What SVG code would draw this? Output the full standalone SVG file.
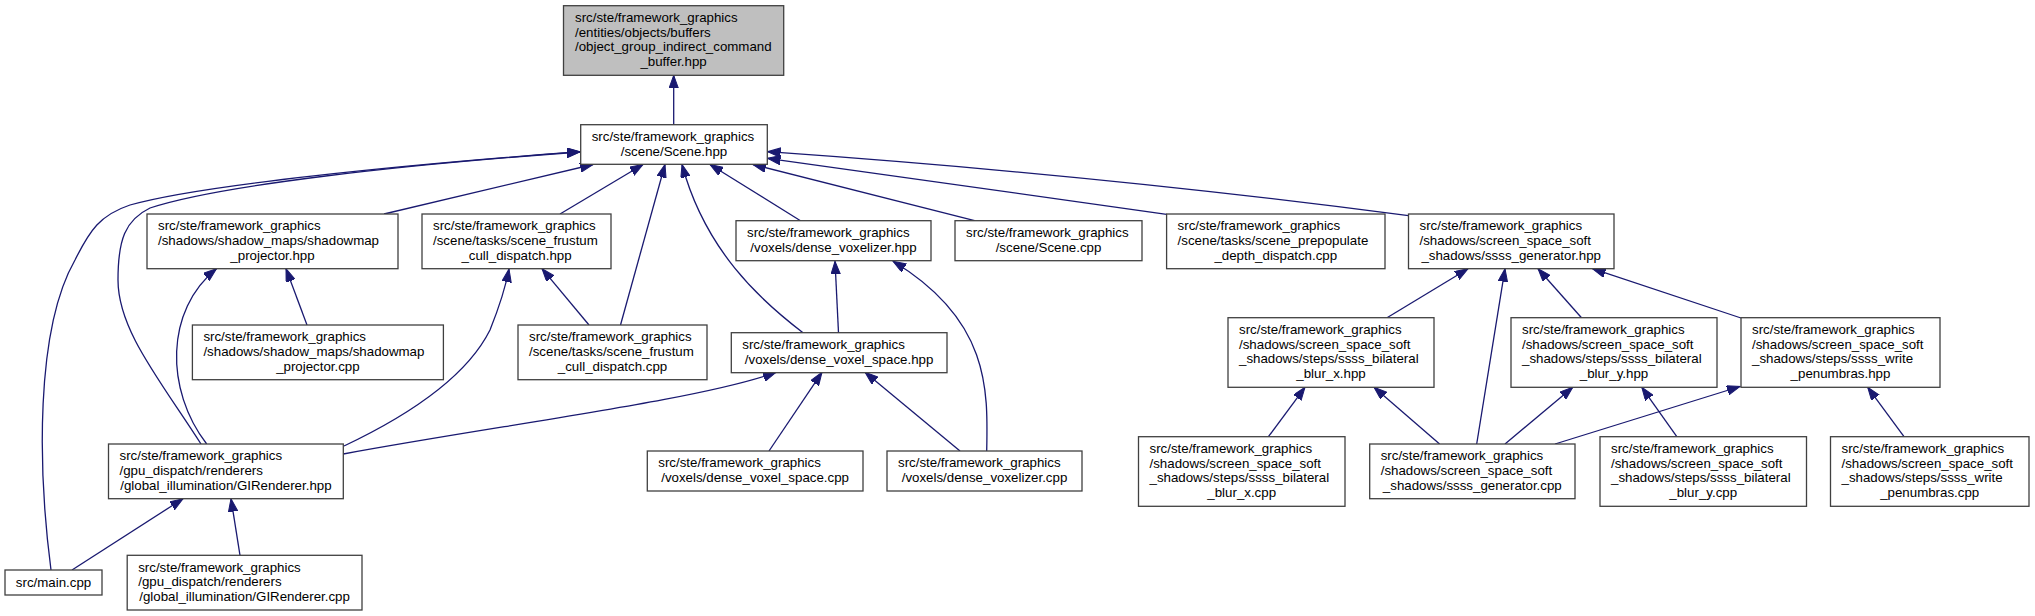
<svg xmlns="http://www.w3.org/2000/svg" width="2035" height="616" viewBox="0 0 2035 616">
<style>
.n rect{fill:#fff;stroke:#404040;stroke-width:1.3}
.n.root rect{fill:#bfbfbf}
text{font-family:"Liberation Sans",Arial,sans-serif;font-size:13.3px;fill:#000}
.c{text-anchor:middle}
.e path{fill:none;stroke:#191970;stroke-width:1.3;marker-end:url(#a)}
</style>
<defs>
<marker id="a" markerUnits="userSpaceOnUse" markerWidth="14" markerHeight="10" refX="13" refY="4.7" orient="auto"><path d="M0,0 L13,4.7 L0,9.4 z" fill="#191970" stroke="#191970" stroke-width="1"/></marker>
</defs>
<rect width="2035" height="616" fill="#fff"/>
<g class="e" id="edges">
<path d="M673.7,124.7 L673.7,75.3"/>
<path d="M384,214 L593,164.5"/>
<path d="M560,214 L643,164.5"/>
<path d="M620.5,325 L665,164.5"/>
<path d="M589,325 L542,268.7"/>
<path d="M307,325 L286,268.7"/>
<path d="M206.7,444 C165,390 165,310 216.5,268.7"/>
<path d="M51,570 C38,470 35,330 75,260 C90,230 100,215 130,205 C200,185 400,165 580,151.7"/>
<path d="M201,444 C160,380 118,330 118,280 C118,240 125,220 150,208 C220,185 400,165 580,152"/>
<path d="M344,446 C420,410 470,370 490,330 C500,305 506,285 509,269"/>
<path d="M343.3,454 C500,425 700,400 776,372.3"/>
<path d="M803,332.7 C760,300 705,250 682,164.5"/>
<path d="M800.5,220.7 L710,164.5"/>
<path d="M974.6,220.7 L753,164.5"/>
<path d="M1166.6,214.3 L767.5,158.3"/>
<path d="M1408.5,215.7 Q1100,175 767.5,151.7"/>
<path d="M838.5,332.7 L835,261.3"/>
<path d="M986.7,451 C988,390 990,320 893,261.3"/>
<path d="M769,451 L822,372.3"/>
<path d="M960,451 L865,372.3"/>
<path d="M240,555.3 L231,498.7"/>
<path d="M72,570 L183,498.7"/>
<path d="M1387,317.7 L1468,268.7"/>
<path d="M1476.7,444 L1505,268.7"/>
<path d="M1581.5,317.7 L1538,268.7"/>
<path d="M1741,318 L1592.5,268.7"/>
<path d="M1268.4,436.7 L1305,387.3"/>
<path d="M1439.6,444 L1374,387.3"/>
<path d="M1505,444 L1572.8,387.3"/>
<path d="M1555,444 L1740,386.5"/>
<path d="M1676.8,436.7 L1641.8,387.3"/>
<path d="M1904,436.7 L1867.7,387.3"/>
</g>
<g class="n root" id="n0"><rect x="563.5" y="5.7" width="220.2" height="69.6"/>
<text x="575" y="21.9">src/ste/framework_graphics</text><text x="575" y="36.6">/entities/objects/buffers</text><text x="575" y="51.3">/object_group_indirect_command</text><text class="c" x="673.6" y="66">_buffer.hpp</text></g>
<g class="n" id="n1"><rect x="580.7" y="124.7" width="186.6" height="39.6"/>
<text x="591.7" y="141">src/ste/framework_graphics</text><text class="c" x="674" y="155.7">/scene/Scene.hpp</text></g>
<g class="n" id="n2"><rect x="147" y="214" width="251" height="54.7"/>
<text x="158" y="230.3">src/ste/framework_graphics</text><text x="158" y="245">/shadows/shadow_maps/shadowmap</text><text class="c" x="272.5" y="259.7">_projector.hpp</text></g>
<g class="n" id="n3"><rect x="422" y="214" width="189" height="54.7"/>
<text x="433" y="230.3">src/ste/framework_graphics</text><text x="433" y="245">/scene/tasks/scene_frustum</text><text class="c" x="516.5" y="259.7">_cull_dispatch.hpp</text></g>
<g class="n" id="n4"><rect x="736" y="220.7" width="195" height="40"/>
<text x="747" y="237">src/ste/framework_graphics</text><text class="c" x="833.5" y="251.7">/voxels/dense_voxelizer.hpp</text></g>
<g class="n" id="n5"><rect x="955" y="220.7" width="187" height="40"/>
<text x="966" y="237">src/ste/framework_graphics</text><text class="c" x="1048.5" y="251.7">/scene/Scene.cpp</text></g>
<g class="n" id="n6"><rect x="1166.6" y="214" width="218.4" height="54.7"/>
<text x="1177.6" y="230.3">src/ste/framework_graphics</text><text x="1177.6" y="245">/scene/tasks/scene_prepopulate</text><text class="c" x="1275.8" y="259.7">_depth_dispatch.cpp</text></g>
<g class="n" id="n7"><rect x="1408.5" y="214" width="205.5" height="54.7"/>
<text x="1419.5" y="230.3">src/ste/framework_graphics</text><text x="1419.5" y="245">/shadows/screen_space_soft</text><text class="c" x="1511.2" y="259.7">_shadows/ssss_generator.hpp</text></g>
<g class="n" id="n8"><rect x="192.4" y="325" width="251" height="54.7"/>
<text x="203.4" y="341.3">src/ste/framework_graphics</text><text x="203.4" y="356">/shadows/shadow_maps/shadowmap</text><text class="c" x="317.9" y="370.7">_projector.cpp</text></g>
<g class="n" id="n9"><rect x="518" y="325" width="189" height="54.7"/>
<text x="529" y="341.3">src/ste/framework_graphics</text><text x="529" y="356">/scene/tasks/scene_frustum</text><text class="c" x="612.5" y="370.7">_cull_dispatch.cpp</text></g>
<g class="n" id="n10"><rect x="731.3" y="332.7" width="215.7" height="40"/>
<text x="742.3" y="349">src/ste/framework_graphics</text><text class="c" x="839.1" y="363.7">/voxels/dense_voxel_space.hpp</text></g>
<g class="n" id="n11"><rect x="1228" y="317.7" width="206" height="69.6"/>
<text x="1239" y="334">src/ste/framework_graphics</text><text x="1239" y="348.7">/shadows/screen_space_soft</text><text x="1239" y="363.4">_shadows/steps/ssss_bilateral</text><text class="c" x="1331" y="378.1">_blur_x.hpp</text></g>
<g class="n" id="n12"><rect x="1511" y="317.7" width="206" height="69.6"/>
<text x="1522" y="334">src/ste/framework_graphics</text><text x="1522" y="348.7">/shadows/screen_space_soft</text><text x="1522" y="363.4">_shadows/steps/ssss_bilateral</text><text class="c" x="1614" y="378.1">_blur_y.hpp</text></g>
<g class="n" id="n13"><rect x="1741" y="317.7" width="199" height="69.6"/>
<text x="1752" y="334">src/ste/framework_graphics</text><text x="1752" y="348.7">/shadows/screen_space_soft</text><text x="1752" y="363.4">_shadows/steps/ssss_write</text><text class="c" x="1840.5" y="378.1">_penumbras.hpp</text></g>
<g class="n" id="n14"><rect x="108.5" y="444" width="234.8" height="54.7"/>
<text x="119.5" y="460.3">src/ste/framework_graphics</text><text x="119.5" y="475">/gpu_dispatch/renderers</text><text class="c" x="225.9" y="489.7">/global_illumination/GIRenderer.hpp</text></g>
<g class="n" id="n15"><rect x="647.3" y="451" width="215.7" height="40"/>
<text x="658.3" y="467.3">src/ste/framework_graphics</text><text class="c" x="755.1" y="482">/voxels/dense_voxel_space.cpp</text></g>
<g class="n" id="n16"><rect x="887" y="451" width="195" height="40"/>
<text x="898" y="467.3">src/ste/framework_graphics</text><text class="c" x="984.5" y="482">/voxels/dense_voxelizer.cpp</text></g>
<g class="n" id="n17"><rect x="1138.5" y="436.7" width="206.5" height="69.6"/>
<text x="1149.5" y="453">src/ste/framework_graphics</text><text x="1149.5" y="467.7">/shadows/screen_space_soft</text><text x="1149.5" y="482.4">_shadows/steps/ssss_bilateral</text><text class="c" x="1241.7" y="497.1">_blur_x.cpp</text></g>
<g class="n" id="n18"><rect x="1369.7" y="444" width="205.3" height="54.7"/>
<text x="1380.7" y="460.3">src/ste/framework_graphics</text><text x="1380.7" y="475">/shadows/screen_space_soft</text><text class="c" x="1472.3" y="489.7">_shadows/ssss_generator.cpp</text></g>
<g class="n" id="n19"><rect x="1600" y="436.7" width="206.5" height="69.6"/>
<text x="1611" y="453">src/ste/framework_graphics</text><text x="1611" y="467.7">/shadows/screen_space_soft</text><text x="1611" y="482.4">_shadows/steps/ssss_bilateral</text><text class="c" x="1703.2" y="497.1">_blur_y.cpp</text></g>
<g class="n" id="n20"><rect x="1830.5" y="436.7" width="198.5" height="69.6"/>
<text x="1841.5" y="453">src/ste/framework_graphics</text><text x="1841.5" y="467.7">/shadows/screen_space_soft</text><text x="1841.5" y="482.4">_shadows/steps/ssss_write</text><text class="c" x="1929.7" y="497.1">_penumbras.cpp</text></g>
<g class="n" id="n21"><rect x="5" y="570" width="97" height="25"/>
<text class="c" x="53.5" y="586.5">src/main.cpp</text></g>
<g class="n" id="n22"><rect x="127.2" y="555.3" width="234.8" height="54.7"/>
<text x="138.2" y="571.6">src/ste/framework_graphics</text><text x="138.2" y="586.3">/gpu_dispatch/renderers</text><text class="c" x="244.6" y="601">/global_illumination/GIRenderer.cpp</text></g>
</svg>
